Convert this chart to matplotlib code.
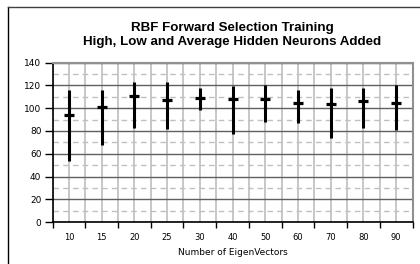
import matplotlib
matplotlib.use("Agg")
import matplotlib.pyplot as plt
from matplotlib.lines import Line2D
import numpy as np

categories = ["10", "15", "20", "25", "30", "40", "50", "60", "70", "80", "90"]
high = [116, 116, 123, 123, 118, 119.5, 120.5, 116, 118, 117.5, 120]
low = [54, 68, 83, 82, 98, 77, 88, 87, 74, 83, 81]
avg = [94, 101, 110.5, 107.5, 108.5, 108, 108, 104.5, 103.5, 106.5, 104.5]

W, H = 420, 264
fig = plt.figure(figsize=(W / 100, H / 100), dpi=100)
fig.patch.set_facecolor("white")

# outer frame (left and top visible)
fig.add_artist(Line2D([7.5 / W, 7.5 / W], [0, 1 - 6.5 / H], color="black", lw=1.0, transform=fig.transFigure))
fig.add_artist(Line2D([7.5 / W, 1], [1 - 6.5 / H, 1 - 6.5 / H], color="#404040", lw=1.0, transform=fig.transFigure))

left, right, top, bottom = 52.5, 412.5, 62.5, 222.3
ax = fig.add_axes([left / W, 1 - bottom / H, (right - left) / W, (bottom - top) / H])

x = np.arange(len(categories))
ax.vlines(x, low, high, color="black", lw=2.2, zorder=5)
ax.plot(x, avg, linestyle="none", marker="_", markersize=7, mew=2.3, color="black", zorder=6)

ax.set_xlim(-0.5, len(categories) - 0.5)
ax.set_ylim(0, 140)

ax.set_yticks(np.arange(0, 141, 20))
ax.set_yticks(np.arange(10, 140, 20), minor=True)
bounds = np.arange(-0.5, len(categories), 1.0)
ax.set_xticks(bounds)
ax.set_xticks(x, minor=True)
ax.set_xticklabels([])
ax.set_xticklabels(categories, minor=True)

for lab in ax.get_xticklabels(minor=True):
    lab.set_fontfamily("DejaVu Sans")
    lab.set_fontsize(6)
for lab in ax.get_yticklabels():
    lab.set_fontfamily("DejaVu Sans")
    lab.set_fontsize(6.5)

ax.tick_params(axis="y", which="major", length=6, width=1, color="black", pad=2)
ax.tick_params(axis="y", which="minor", length=0)
ax.tick_params(axis="x", which="major", length=4, width=1, color="black")
ax.tick_params(axis="x", which="minor", length=0, pad=8)

ax.grid(axis="y", which="major", color="#606060", lw=1.0, zorder=1)
ax.grid(axis="y", which="minor", color="#c0c0c0", lw=1.0, linestyle=(0, (4, 3)), zorder=1)
# vertical light gridlines at category centres and boundaries
ax.vlines(np.concatenate([x, bounds]), 0, 140, color="#bdbdbd", lw=1.2, zorder=0.8, snap=True)

for s in ["left", "bottom"]:
    ax.spines[s].set_color("black")
    ax.spines[s].set_linewidth(1.2)
for s in ["top", "right"]:
    ax.spines[s].set_color("#909090")
    ax.spines[s].set_linewidth(1.5)

ax.set_xlabel("Number of EigenVectors", fontsize=6.5, family="DejaVu Sans", labelpad=4)

fig.text((left + right) / 2 / W, 1 - 28 / H, "RBF Forward Selection Training",
         ha="center", va="center", fontsize=9.6, fontweight="bold", family="Liberation Sans")
fig.text((left + right) / 2 / W, 1 - 42.5 / H, "High, Low and Average Hidden Neurons Added",
         ha="center", va="center", fontsize=9.6, fontweight="bold", family="Liberation Sans")

fig.savefig("out.png", dpi=100)
